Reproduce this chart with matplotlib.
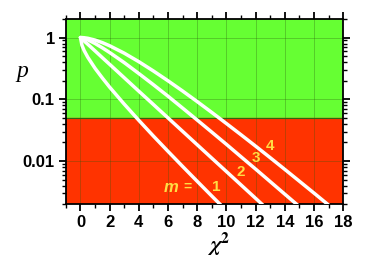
import numpy as np
import matplotlib.pyplot as plt
from matplotlib.ticker import MultipleLocator, LogLocator, NullFormatter, FixedLocator

plt.rcParams['font.family'] = 'Liberation Sans'
plt.rcParams['font.weight'] = 'bold'
plt.rcParams['mathtext.fontset'] = 'stix'

# chi^2 values and p values (one curve per m)
chi2 = [0, 0.1, 0.25, 0.5, 1, 1.5, 2, 3, 4, 5, 6, 7, 8, 9, 10, 11, 12, 13, 14, 15, 16, 17, 18]
p_m1 = [1, 0.752, 0.617, 0.480, 0.317, 0.221, 0.157, 0.0833, 0.0455, 0.0253, 0.0143, 0.00815,
        0.00468, 0.0027, 0.00157, None, None, None, None, None, None, None, None]
p_m2 = [1, 0.951, 0.882, 0.779, 0.607, 0.472, 0.368, 0.223, 0.135, 0.0821, 0.0498, 0.0302,
        0.0183, 0.0111, 0.00674, 0.00409, 0.00248, 0.0015, None, None, None, None, None]
p_m3 = [1, 0.992, 0.969, 0.919, 0.801, 0.682, 0.572, 0.392, 0.261, 0.172, 0.112, 0.0719,
        0.046, 0.0293, 0.0186, 0.0117, 0.00739, 0.00463, 0.0029, 0.00182, None, None, None]
p_m4 = [1, 0.999, 0.993, 0.974, 0.910, 0.827, 0.736, 0.558, 0.406, 0.287, 0.199, 0.136,
        0.0916, 0.0611, 0.0404, 0.0266, 0.0174, 0.0113, 0.0073, 0.0047, 0.00302, 0.00193, 0.00123]
curves = [p_m1, p_m2, p_m3, p_m4]

p_crit = 0.05
labels = ['1', '2', '3', '4']
label_x = [9.3, 10.95, 12.05, 13.0]
label_y = [0.0038, 0.0066, 0.011, 0.0174]

fig = plt.figure(figsize=(3.83, 2.60), dpi=100)
ax = fig.add_axes([0.172, 0.215, 0.724, 0.712])

ax.set_xlim(-1, 18)
ax.set_ylim(0.002, 2)
ax.set_yscale('log')

# Hintergrund: gruen oberhalb, rot unterhalb von p = 0.05
ax.axhspan(p_crit, 2, color='#66ff33', zorder=0)
ax.axhspan(0.002, p_crit, color='#ff3300', zorder=0)
ax.axhline(p_crit, color='#2a6a10', lw=0.8, zorder=1)

ax.grid(True, which='major', color='#2a5a10', alpha=0.35, lw=0.6, zorder=1)

for p in curves:
    x = [c for c, v in zip(chi2, p) if v is not None]
    y = [v for v in p if v is not None]
    ax.plot(x, y, color='white', lw=2.5, zorder=3, solid_capstyle='round')

for lab, lx, ly in zip(labels, label_x, label_y):
    ax.text(lx, ly, lab, color='#ffdd44', fontsize=11, fontweight='bold',
            ha='center', va='center', zorder=4)
ax.text(6.2, 0.0037, 'm', color='#ffdd44', fontsize=12, fontweight='bold',
        style='italic', ha='center', va='center', zorder=4)
ax.text(7.3, 0.0038, '=', color='#ffdd44', fontsize=10, fontweight='bold',
        ha='center', va='center', zorder=4)

ax.xaxis.set_major_locator(FixedLocator(np.arange(0, 19, 2)))
ax.xaxis.set_minor_locator(MultipleLocator(1))
ax.yaxis.set_minor_locator(LogLocator(base=10, subs=np.arange(2, 10), numticks=20))
ax.yaxis.set_minor_formatter(NullFormatter())
ax.set_yticks([1, 0.1, 0.01])
ax.set_yticklabels(['1', '0.1', '0.01'])

ax.tick_params(which='both', direction='out', top=True, right=True, color='black')
ax.tick_params(which='major', length=5, width=1.3, labelsize=12, pad=3)
ax.tick_params(which='minor', length=3, width=1)
for sp in ax.spines.values():
    sp.set_linewidth(1.3)

fig.text(0.057, 0.725, 'p', fontsize=17, family='Liberation Serif', style='italic',
         fontweight='normal', ha='center', va='center')
fig.text(0.57, 0.06, r'$\chi^2$', fontsize=16, ha='center', va='center')

plt.savefig('out.png', dpi=100)
